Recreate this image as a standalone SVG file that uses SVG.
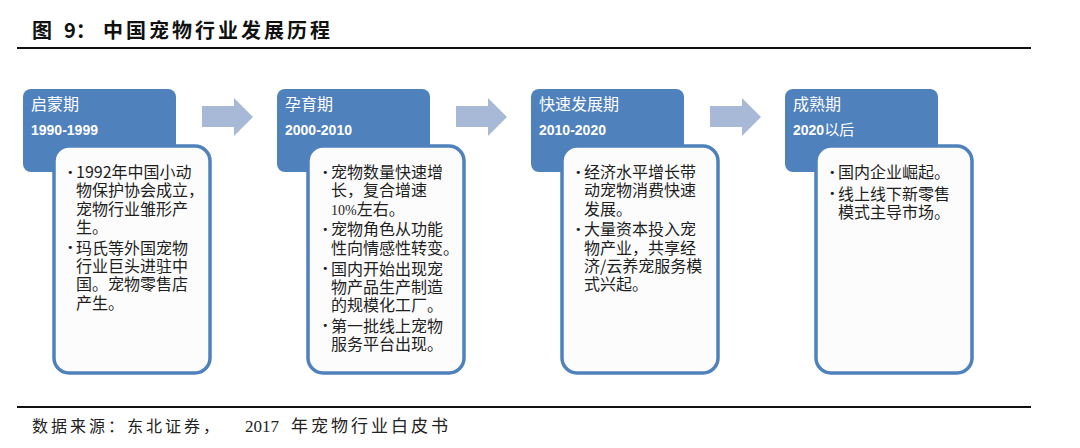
<svg xmlns="http://www.w3.org/2000/svg" width="1080" height="448" viewBox="0 0 1080 448">
<style>
.hdr{fill:#4f81bd;}
.card{fill:#fcfcfd;stroke:#4f81bd;stroke-width:3.5;}
.arrow{fill:#a7b9d6;}
.ht{font-family:"Noto Sans CJK SC","Noto Sans",sans-serif;font-size:16px;fill:#ffffff;}
.hy{font-family:"Liberation Sans",Arial,sans-serif;font-size:14px;font-weight:bold;fill:#ffffff;}
.bt{font-family:"Noto Sans CJK SC","Noto Sans",sans-serif;font-size:16px;fill:#1e1e1e;}
.bu{font-family:"DejaVu Sans",sans-serif;font-size:11px;fill:#1e1e1e;}
.title{font-family:"Noto Sans CJK SC",sans-serif;font-size:20px;font-weight:bold;fill:#111;}
.src{font-family:"Noto Sans CJK SC",sans-serif;fill:#222;}
.rule{stroke:#111;stroke-width:2;}
</style>
<rect width="1080" height="448" fill="#ffffff"/>
<g id="title">
<text class="title" x="32" y="38">图</text>
<text class="title" x="64" y="38">9：</text>
<text class="title" x="103" y="38" letter-spacing="3">中国宠物行业发展历程</text>
<line class="rule" x1="17" y1="48" x2="1031" y2="48"/>
</g>
<g id="connectors">
<path class="arrow" d="M202,106 H234 V98 L253,117 L234,136 V127 H202 Z"/>
<path class="arrow" d="M456,106 H488 V98 L507,117 L488,136 V127 H456 Z"/>
<path class="arrow" d="M710,106 H742 V98 L761,117 L742,136 V127 H710 Z"/>
</g>
<g id="node1">
<rect class="hdr" x="23" y="89" width="153" height="83" rx="8"/>
<text class="ht" x="31" y="110">启蒙期</text>
<text class="hy" x="31" y="135">1990-1999</text>
<rect class="card" x="54" y="146" width="156" height="227" rx="15"/>
<text class="bu" x="67" y="175.5">•</text>
<text class="bu" x="67" y="251.2">•</text>
<text class="bt" x="76"><tspan x="76" y="178">1992年中国小动</tspan><tspan x="76" y="196.3">物保护协会成立，</tspan><tspan x="76" y="214.6">宠物行业雏形产</tspan><tspan x="76" y="232.9">生。</tspan><tspan x="76" y="253.7">玛氏等外国宠物</tspan><tspan x="76" y="272">行业巨头进驻中</tspan><tspan x="76" y="290.3">国。宠物零售店</tspan><tspan x="76" y="308.6">产生。</tspan></text>
</g>
<g id="node2">
<rect class="hdr" x="277" y="89" width="153" height="83" rx="8"/>
<text class="ht" x="285" y="110">孕育期</text>
<text class="hy" x="285" y="135">2000-2010</text>
<rect class="card" x="308" y="146" width="156" height="227" rx="15"/>
<text class="bu" x="322" y="175.5">•</text>
<text class="bu" x="322" y="232.9">•</text>
<text class="bu" x="322" y="272">•</text>
<text class="bu" x="322" y="329.4">•</text>
<text class="bt" x="331"><tspan x="331" y="178">宠物数量快速增</tspan><tspan x="331" y="196.3">长，复合增速</tspan><tspan x="331" y="214.6"><tspan style="font-family:'Liberation Serif',serif;font-size:14px">10%</tspan>左右。</tspan><tspan x="331" y="235.4">宠物角色从功能</tspan><tspan x="331" y="253.7">性向情感性转变。</tspan><tspan x="331" y="274.5">国内开始出现宠</tspan><tspan x="331" y="292.8">物产品生产制造</tspan><tspan x="331" y="311.1">的规模化工厂。</tspan><tspan x="331" y="331.9">第一批线上宠物</tspan><tspan x="331" y="350.2">服务平台出现。</tspan></text>
</g>
<g id="node3">
<rect class="hdr" x="531" y="89" width="153" height="83" rx="8"/>
<text class="ht" x="539" y="110">快速发展期</text>
<text class="hy" x="539" y="135">2010-2020</text>
<rect class="card" x="562" y="146" width="156" height="227" rx="15"/>
<text class="bu" x="575" y="175.5">•</text>
<text class="bu" x="575" y="232.9">•</text>
<text class="bt" x="584"><tspan x="584" y="178">经济水平增长带</tspan><tspan x="584" y="196.3">动宠物消费快速</tspan><tspan x="584" y="214.6">发展。</tspan><tspan x="584" y="235.4">大量资本投入宠</tspan><tspan x="584" y="253.7">物产业，共享经</tspan><tspan x="584" y="272">济/云养宠服务模</tspan><tspan x="584" y="290.3">式兴起。</tspan></text>
</g>
<g id="node4">
<rect class="hdr" x="785" y="89" width="153" height="83" rx="8"/>
<text class="ht" x="793" y="110">成熟期</text>
<text x="793" y="135"><tspan class="hy">2020</tspan><tspan class="ht" style="font-size:15px">以后</tspan></text>
<rect class="card" x="816" y="146" width="156" height="227" rx="15"/>
<text class="bu" x="829" y="175.5">•</text>
<text class="bu" x="829" y="197.3">•</text>
<text class="bt" x="838"><tspan x="838" y="178">国内企业崛起。</tspan><tspan x="838" y="199.8">线上线下新零售</tspan><tspan x="838" y="218.1">模式主导市场。</tspan></text>
</g>
<g id="source">
<line class="rule" x1="17" y1="407" x2="1031" y2="407"/>
<text class="src" x="32" y="432" font-size="16" letter-spacing="3">数据来源：东北证券，</text>
<text x="245" y="432" font-family="Liberation Serif,serif" font-size="17" fill="#222">2017</text>
<text class="src" x="291" y="432" font-size="17" letter-spacing="3">年宠物行业白皮书</text>
</g>
</svg>
